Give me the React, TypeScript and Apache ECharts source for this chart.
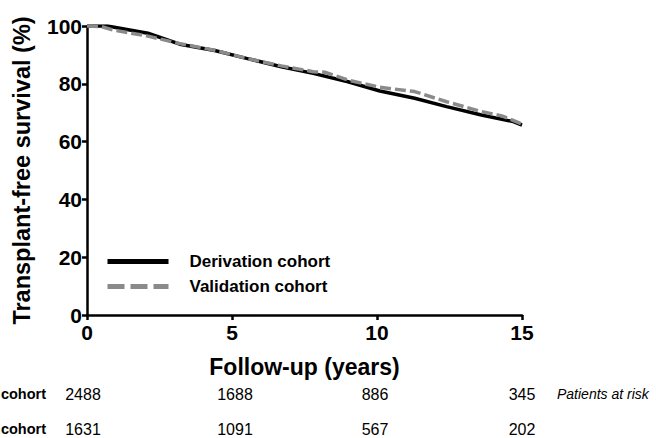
import React, { useEffect, useRef } from "react";
import * as echarts from "echarts";

// Kaplan–Meier style survival estimates (years, %)
const derivationYears = [0, 0.7, 2.1, 3.2, 4.4, 5.5, 6.7, 7.8, 9.0, 10.1, 11.3, 12.4, 13.6, 14.7, 15];
const derivationSurvival = [100, 100, 97.5, 93.7, 91.5, 88.8, 85.9, 83.6, 80.7, 77.5, 75.0, 72.1, 69.2, 66.9, 65.7];

const validationYears = [0, 0.5, 0.9, 2.1, 3.2, 4.4, 5.5, 6.7, 7.8, 8.2, 9.0, 10.1, 11.3, 12.4, 13.6, 14.3, 15];
const validationSurvival = [100, 99.8, 98.6, 96.5, 93.9, 91.6, 88.8, 86.2, 84.2, 84.0, 81.3, 78.8, 77.3, 73.8, 70.4, 68.9, 66.1];

const seriesNames = ["Derivation cohort", "Validation cohort"];
const xTicks = [0, 5, 10, 15];
const yTicks = [0, 20, 40, 60, 80, 100];

// Numbers at risk at 0, 5, 10 and 15 years
const derivationAtRisk = [2488, 1688, 886, 345];
const validationAtRisk = [1631, 1091, 567, 202];

const FONT = "'Liberation Sans', Arial, Helvetica, sans-serif";

export default function App() {
  const ref = useRef<HTMLDivElement>(null);

  useEffect(() => {
    if (!ref.current) return;
    const chart = echarts.init(ref.current, undefined, { renderer: "svg" });

    const zip = (xs: number[], ys: number[]) => xs.map((x, i) => [x, ys[i]]);

    // Horizontal centres of the at-risk columns
    const riskX = [83, 235, 375, 522];
    const riskRows = [
      { label: seriesNames[0], values: derivationAtRisk, y: 394 },
      { label: seriesNames[1], values: validationAtRisk, y: 429 },
    ];
    const graphics: any[] = [];
    riskRows.forEach((row) => {
      graphics.push({
        type: "text",
        x: 46,
        y: row.y,
        style: {
          text: row.label,
          font: `bold 14.5px ${FONT}`,
          fill: "#000",
          align: "right",
          verticalAlign: "middle",
        },
      });
      row.values.forEach((v, i) => {
        graphics.push({
          type: "text",
          x: riskX[i],
          y: row.y,
          style: {
            text: String(v),
            font: `16px ${FONT}`,
            fill: "#000",
            align: "center",
            verticalAlign: "middle",
          },
        });
      });
    });
    graphics.push({
      type: "text",
      x: 557,
      y: 394,
      style: {
        text: "Patients at risk",
        font: `italic 14px ${FONT}`,
        fill: "#000",
        align: "left",
        verticalAlign: "middle",
      },
    });

    chart.setOption({
      animation: false,
      backgroundColor: "#fff",
      grid: { left: 87, right: 134, top: 26, bottom: 123 },
      legend: {
        orient: "vertical",
        left: 105,
        top: 253,
        padding: 0,
        itemWidth: 61,
        itemHeight: 14,
        itemGap: 8,
        data: [
          { name: seriesNames[0], lineStyle: { width: 5 } },
          { name: seriesNames[1], lineStyle: { width: 5, type: [17, 6] } },
        ],
        itemStyle: { opacity: 0 },
        textStyle: {
          fontFamily: FONT,
          fontWeight: "bold",
          fontSize: 17,
          color: "#000",
          padding: [0, 0, 0, 16],
        },
      },
      xAxis: {
        type: "value",
        min: 0,
        max: 15,
        interval: 5,
        name: "Follow-up (years)",
        nameLocation: "middle",
        nameGap: 40,
        nameTextStyle: { fontFamily: FONT, fontWeight: "bold", fontSize: 23, color: "#000" },
        axisLine: { show: true, onZero: false, lineStyle: { color: "#000", width: 2.5 } },
        axisTick: { show: true, length: 5, lineStyle: { color: "#000", width: 2.5 } },
        axisLabel: {
          fontFamily: FONT,
          fontWeight: "bold",
          fontSize: 21,
          color: "#000",
          margin: 7,
          customValues: xTicks,
        },
        splitLine: { show: false },
      },
      yAxis: {
        type: "value",
        min: 0,
        max: 100,
        interval: 20,
        name: "Transplant-free survival (%)",
        nameLocation: "middle",
        nameGap: 53,
        nameTextStyle: { fontFamily: FONT, fontWeight: "bold", fontSize: 23.5, color: "#000" },
        axisLine: { show: true, lineStyle: { color: "#000", width: 2.5 } },
        axisTick: { show: true, length: 5, lineStyle: { color: "#000", width: 2.5 } },
        axisLabel: {
          fontFamily: FONT,
          fontWeight: "bold",
          fontSize: 21,
          color: "#000",
          margin: 5,
          customValues: yTicks,
        },
        splitLine: { show: false },
      },
      series: [
        {
          name: seriesNames[0],
          type: "line",
          data: zip(derivationYears, derivationSurvival),
          showSymbol: false,
          symbol: "none",
          lineStyle: { color: "#000", width: 3.5 },
          itemStyle: { color: "#000" },
          z: 2,
        },
        {
          name: seriesNames[1],
          type: "line",
          data: zip(validationYears, validationSurvival),
          showSymbol: false,
          symbol: "none",
          lineStyle: { color: "#8a8a8a", width: 3.5, type: [11, 4] },
          itemStyle: { color: "#8a8a8a" },
          z: 3,
        },
      ],
      graphic: graphics,
    });

    return () => chart.dispose();
  }, []);

  return (
    <div
      ref={ref}
      style={{ position: "fixed", left: 0, top: 0, width: 656, height: 438 }}
    />
  );
}
